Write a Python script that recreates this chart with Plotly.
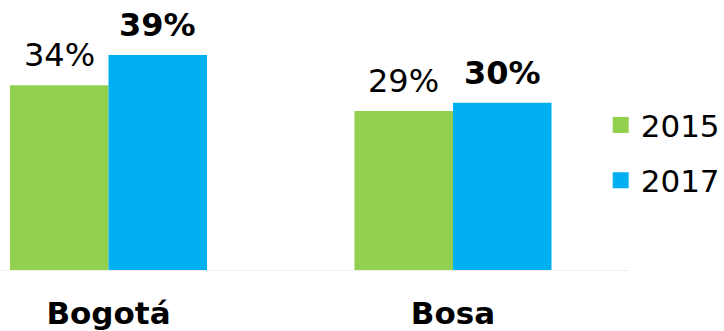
import plotly.graph_objects as go

categories = ["Bogotá", "Bosa"]
cat_pos = [0, 1]
series_names = ["2015", "2017"]
values_2015 = [33.6, 28.9]
values_2017 = [39.1, 30.4]
labels_2015 = ["34%", "29%"]
labels_2017 = ["<b>39%</b>", "<b>30%</b>"]
tick_labels = ["<b>Bogotá</b>", "<b>Bosa</b>"]
colors = ["#92D050", "#00B0F0"]

FONT = "DejaVu Sans"
BAR_PX = 98.5  # half-group offset in px for label placement

fig = go.Figure()
series = [
    (series_names[0], values_2015, labels_2015, colors[0], -BAR_PX / 2),
    (series_names[1], values_2017, labels_2017, colors[1], BAR_PX / 2),
]
for name, vals, labs, col, xs in series:
    fig.add_trace(go.Bar(
        x=cat_pos, y=vals, name=name, marker=dict(color=col, line=dict(width=0)),
        showlegend=False, hoverinfo="x+y",
    ))
    fig.add_trace(go.Scatter(
        x=[None], y=[None], mode="markers", name=name, legendgroup=name,
        marker=dict(symbol="square", size=18, color=col),
        showlegend=True,
    ))
    for xp, v, lab in zip(cat_pos, vals, labs):
        fig.add_annotation(
            x=xp, y=v, xref="x", yref="y", text=lab, showarrow=False,
            xanchor="center", yanchor="bottom", xshift=xs, yshift=9,
            font=dict(family=FONT, size=32, color="#000000"),
        )

fig.update_layout(
    width=724, height=331,
    margin=dict(l=0, r=95, t=0, b=61, autoexpand=False),
    paper_bgcolor="white", plot_bgcolor="white",
    barmode="group", bargap=0.428, bargroupgap=0,
    font=dict(family=FONT, color="#000000"),
    legend=dict(x=0.955, y=0.434, xanchor="left", yanchor="middle",
                font=dict(family=FONT, size=31, color="#000000"),
                tracegroupgap=12, itemsizing="trace",
                bgcolor="rgba(0,0,0,0)"),
    xaxis=dict(range=[-0.315, 1.511], tickvals=cat_pos, ticktext=tick_labels,
               tickfont=dict(family=FONT, size=31, color="#000000"),
               showgrid=False, zeroline=False, showline=True, linecolor="#F0F0F0",
               ticks="", ticklabelstandoff=16, automargin=False),
    yaxis=dict(range=[0, 49.09], visible=False, showgrid=False, zeroline=False,
               automargin=False),
)

fig.write_html(
    "out.html",
    config={"displayModeBar": False},
    post_script="document.body.style.margin='0';document.body.style.padding='0';",
)
